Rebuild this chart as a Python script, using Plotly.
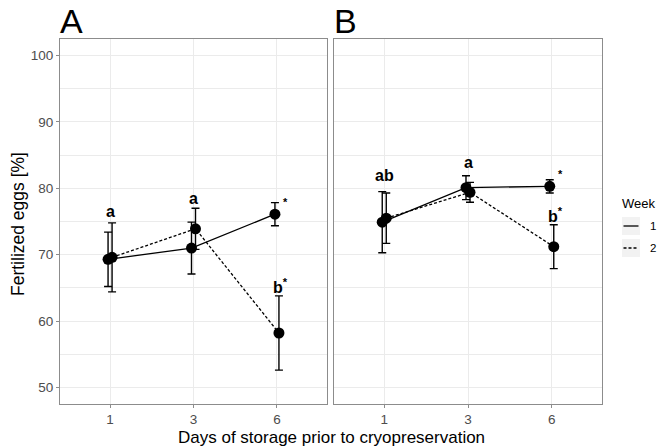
import plotly.graph_objects as go

# ---- data ----
days = ["1", "3", "6"]
weeks = ["1", "2"]

a_week1_mean = [69.3, 71.0, 76.1]
a_week1_se = [4.1, 3.9, 1.75]
a_week2_mean = [69.6, 73.9, 58.2]
a_week2_se = [5.2, 3.1, 5.6]

b_week1_mean = [74.9, 80.1, 80.3]
b_week1_se = [4.6, 1.8, 1.0]
b_week2_mean = [75.5, 79.4, 71.2]
b_week2_se = [3.8, 1.5, 3.3]

# significance letters: (day index, y value, text)
a_letters = [(0, 76.5, "a"), (1, 78.4, "a"), (2, 65.3, "b")]
b_letters = [(0, 82.0, "ab"), (1, 83.9, "a"), (2, 76.0, "b")]
y_ticks = [50, 60, 70, 80, 90, 100]

W, H = 670, 448
FONT = "Liberation Sans, Arial, Helvetica, sans-serif"
GRID = "#ebebeb"
FRAME = "#8c8c8c"
DODGE = 0.024
DASH = "3px,2px"


def px_x(p):
    return p / W


def px_y(p):
    return 1 - p / H


fig = go.Figure()

panels = [
    ("x", "y", a_week1_mean, a_week1_se, a_week2_mean, a_week2_se),
    ("x2", "y2", b_week1_mean, b_week1_se, b_week2_mean, b_week2_se),
]
for xa, ya, m1, s1, m2, s2 in panels:
    for k, (m, s, dash, off) in enumerate([(m1, s1, "solid", -DODGE), (m2, s2, DASH, DODGE)]):
        xs = [i + 1 + off for i in range(len(days))]
        fig.add_trace(go.Scatter(
            x=xs, y=m, xaxis=xa, yaxis=ya, mode="lines+markers",
            name=weeks[k], showlegend=False,
            line=dict(color="black", width=1.3, dash=dash),
            marker=dict(color="black", size=11, symbol="circle"),
            error_y=dict(type="data", array=s, visible=True, color="black",
                         thickness=1.4, width=4),
        ))

axis_common = dict(
    showline=True, mirror=True, linecolor=FRAME, linewidth=1,
    showgrid=True, gridcolor=GRID, gridwidth=1, zeroline=False,
    ticks="outside", ticklen=3, tickcolor=FRAME, tickwidth=1,
    tickfont=dict(family=FONT, size=13.5, color="#4d4d4d"),
)

xdom_a = [px_x(60), px_x(327)]
xdom_b = [px_x(334), px_x(602)]
ydom = [px_y(404), px_y(39)]

xax = dict(axis_common, range=[0.4, 3.6], tickvals=[1, 2, 3], ticktext=days)
yax = dict(axis_common, range=[47.5, 102.5], tickvals=y_ticks,
           minor=dict(showgrid=True, gridcolor=GRID, gridwidth=0.6, dtick=5, tick0=45))

fig.update_layout(
    width=W, height=H,
    margin=dict(l=0, r=0, t=0, b=0),
    paper_bgcolor="white", plot_bgcolor="white",
    showlegend=False,
    xaxis=dict(xax, domain=xdom_a, anchor="y"),
    yaxis=dict(yax, domain=ydom, anchor="x"),
    xaxis2=dict(xax, domain=xdom_b, anchor="y2"),
    yaxis2=dict(yax, domain=ydom, anchor="x2", showticklabels=False, ticks=""),
)

ann = []
# letters
for xref, yref, letters, m1 in [("x", "y", a_letters, a_week1_mean), ("x2", "y2", b_letters, b_week1_mean)]:
    for idx, yv, t in letters:
        text = "<b>%s</b>" % t
        if idx == 2:
            text = "<b>%s</b><sup><b>*</b></sup>" % t
        ann.append(dict(x=idx + 1, y=yv, xref=xref, yref=yref, text=text, showarrow=False,
                        xanchor="center", yanchor="middle", xshift=4 if idx == 2 else 0,
                        font=dict(family=FONT, size=16, color="black")))
    # star next to week-1 day-6 point
    ann.append(dict(x=3, y=m1[2], xref=xref, yref=yref, text="<b>*</b>", showarrow=False,
                    xanchor="center", yanchor="middle", xshift=9, yshift=12,
                    font=dict(family=FONT, size=11, color="black")))

# panel tags
for tag, xp in [("A", 58), ("B", 332)]:
    ann.append(dict(x=px_x(xp), y=px_y(21), xref="paper", yref="paper", text=tag,
                    showarrow=False, xanchor="left", yanchor="middle",
                    font=dict(family=FONT, size=34, color="black")))

# axis titles
ann.append(dict(x=px_x(18), y=px_y(224), xref="paper", yref="paper", text="Fertilized eggs [%]",
                showarrow=False, textangle=-90, xanchor="center", yanchor="middle",
                font=dict(family=FONT, size=17.5, color="black")))
ann.append(dict(x=px_x(331), y=px_y(437), xref="paper", yref="paper",
                text="Days of storage prior to cryopreservation",
                showarrow=False, xanchor="center", yanchor="middle",
                font=dict(family=FONT, size=17, color="black")))

# legend (manual, ggplot style)
ann.append(dict(x=px_x(620), y=px_y(203), xref="paper", yref="paper", text="Week",
                showarrow=False, xanchor="left", yanchor="middle",
                font=dict(family=FONT, size=13, color="black")))
shapes = []
for k, (wk, dash) in enumerate(zip(weeks, ["solid", DASH])):
    cy = 226 + 22 * k
    shapes.append(dict(type="rect", xref="paper", yref="paper",
                       x0=px_x(622), x1=px_x(640), y0=px_y(cy - 9), y1=px_y(cy + 9),
                       fillcolor="#f2f2f2", line=dict(width=0)))
    shapes.append(dict(type="line", xref="paper", yref="paper",
                       x0=px_x(623.5), x1=px_x(638.5), y0=px_y(cy), y1=px_y(cy),
                       line=dict(color="black", width=1.3, dash=dash)))
    ann.append(dict(x=px_x(648), y=px_y(cy), xref="paper", yref="paper", text=wk,
                    showarrow=False, xanchor="left", yanchor="middle",
                    font=dict(family=FONT, size=11.5, color="black")))

fig.update_layout(annotations=ann, shapes=shapes)
fig.write_html("out.html", config={"displayModeBar": False},
               post_script="document.body.style.margin='0';document.body.style.padding='0';")
